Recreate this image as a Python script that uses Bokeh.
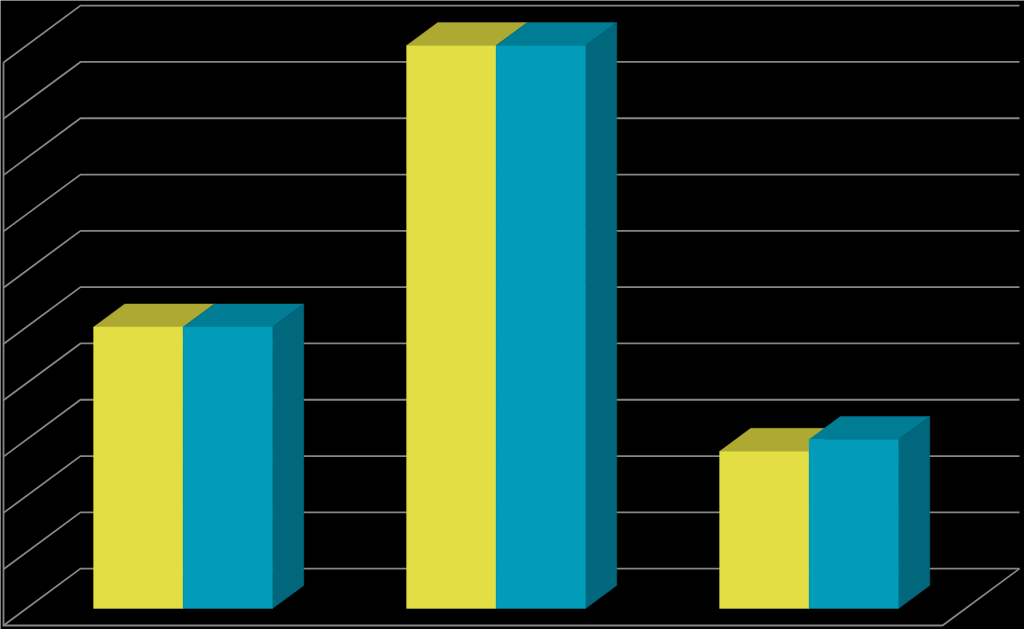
from bokeh.plotting import figure
from bokeh.models import Range1d
from bokeh.embed import file_html
from bokeh.resources import INLINE

categories = [0, 1, 2]
series_yellow = [50, 100, 27.9]
series_teal = [50, 100, 30]
value_ticks = [0, 10, 20, 30, 40, 50, 60, 70, 80, 90, 100]

YELLOW, YELLOW_TOP = "#E2DE43", "#ADA933"
TEAL, TEAL_TOP, TEAL_SIDE = "#009CBA", "#007C95", "#00677C"
GRID = "#868686"

# oblique projection of the chart's 3D box
CAT_PX = 313.0
DEPTH_X = 77 / CAT_PX      # category units per full depth
DEPTH_Y = 10.1             # value units per full depth
BAR_FRONT, BAR_BACK = 0.30, 0.705
BAR_LEFT, BAR_MID, BAR_RIGHT = 0.214, 0.5, 0.786


def proj(x, v, d):
    return x + d * DEPTH_X, v + d * DEPTH_Y


def poly(points):
    pts = [proj(*pt) for pt in points]
    return [a for a, _ in pts], [b for _, b in pts]


p = figure(width=1024, height=629, output_backend="svg", toolbar_location=None,
           x_range=Range1d(-3 / CAT_PX, 1021 / CAT_PX),
           y_range=Range1d(-4 / 5.63, 100 + 62 / 5.63),
           min_border=0)
p.axis.visible = False
p.grid.visible = False
p.outline_line_color = None
p.background_fill_color = "black"
p.border_fill_color = "black"

n = len(categories)
line_xs, line_ys = [], []
for t in value_ticks:
    a, b = poly([(0, t, 0), (0, t, 1), (n, t, 1)])
    line_xs.append(a)
    line_ys.append(b)
a, b = poly([(0, value_ticks[-1], 0), (0, 0, 0), (n, 0, 0), (n, 0, 1)])
line_xs.append(a)
line_ys.append(b)
p.multi_line(line_xs, line_ys, line_color=GRID, line_width=1.8, line_join="miter")


def add_face(points, color):
    a, b = poly(points)
    p.patch(a, b, fill_color=color, line_color=color, line_width=0.4)


for c, vy, vt in zip(categories, series_yellow, series_teal):
    l, m, r = c + BAR_LEFT, c + BAR_MID, c + BAR_RIGHT
    f, k = BAR_FRONT, BAR_BACK
    add_face([(l, vy, f), (m, vy, f), (m, vy, k), (l, vy, k)], YELLOW_TOP)
    add_face([(l, 0, f), (m, 0, f), (m, vy, f), (l, vy, f)], YELLOW)
    add_face([(m, vt, f), (r, vt, f), (r, vt, k), (m, vt, k)], TEAL_TOP)
    add_face([(r, 0, f), (r, 0, k), (r, vt, k), (r, vt, f)], TEAL_SIDE)
    add_face([(m, 0, f), (r, 0, f), (r, vt, f), (m, vt, f)], TEAL)

open("out.html", "w").write(file_html(p, INLINE))
